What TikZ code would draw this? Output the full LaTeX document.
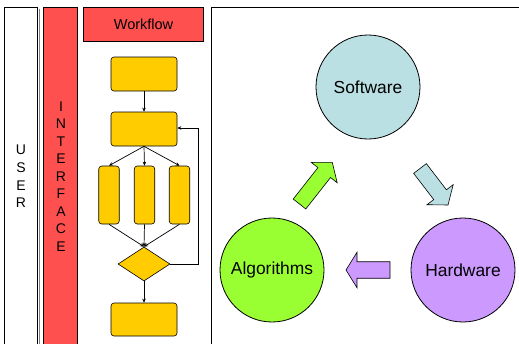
\documentclass[tikz,border=0pt]{standalone}
\usepackage{fontspec}
\setmainfont{Liberation Sans}
\usetikzlibrary{shapes.geometric,arrows.meta}
\definecolor{ired}{HTML}{FF5050}
\definecolor{fyel}{HTML}{FFCC00}
\definecolor{cblue}{HTML}{BBE0E3}
\definecolor{cgreen}{HTML}{99FF33}
\definecolor{cpurp}{HTML}{CC99FF}
\tikzset{
  panel/.style={draw=black, line width=0.8pt},
  fbox/.style={draw=black, line width=0.6pt, fill=fyel, rounded corners=3pt, inner sep=0pt},
  fdia/.style={draw=black, line width=0.6pt, fill=fyel, diamond, inner sep=0pt, minimum width=52pt, minimum height=34pt, aspect=1.5},
  flow/.style={line width=0.7pt, -{Stealth[length=4pt,width=3.5pt]}},
  circ/.style={circle, draw=black, line width=0.8pt, minimum size=104pt, inner sep=0pt, font=\fontsize{17.4}{19}\selectfont},
  barr/.style={draw=black, line width=0.6pt, line join=miter}
}
% #1 tail point, #2 angle, #3 length, #4 shaft width, #5 head width, #6 head length, #7 fill
\newcommand\blkarrow[7]{%
  \begin{scope}[shift={#1}, rotate=#2]
    \draw[barr, fill=#7] (0,-#4/2) -- (#3-#6,-#4/2) -- (#3-#6,-#5/2) -- (#3,0)
      -- (#3-#6,#5/2) -- (#3-#6,#4/2) -- (0,#4/2) -- cycle;
  \end{scope}}
\begin{document}
\begin{tikzpicture}[x=1pt,y=-1pt]
\useasboundingbox (0,0) rectangle (519,343);
\begin{scope}
\clip (0,0) rectangle (519,343);
% USER column
\draw[gray, line width=1pt] (39.2,9) -- (39.2,350);
\draw[panel, fill=white] (4,7) rectangle (37.5,350);
\node (user) at (21,176.5) [align=center, font=\fontsize{14}{17.6}\selectfont] {U\\S\\E\\R};
% INTERFACE column
\draw[panel, fill=ired] (43.5,7) rectangle (77,350);
\node (iface) at (61,176.5) [align=center, font=\fontsize{14}{17.5}\selectfont] {I\\N\\T\\E\\R\\F\\A\\C\\E};
% Workflow header
\node (wf) at (143.5,24) [draw=black, line width=0.8pt, fill=ired, minimum width=120.5pt, minimum height=34pt, inner sep=0pt, font=\fontsize{14.5}{16}\selectfont] {Workflow};
% right panel
\draw[panel] (211.8,7) rectangle (530,350);
\end{scope}
% flowchart
\node[fbox, minimum width=66pt, minimum height=34pt] (b1) at (144,74) {};
\node[fbox, minimum width=66pt, minimum height=34pt] (b2) at (144,129) {};
\node[fbox, minimum width=20.5pt, minimum height=58pt] (p1) at (109,195) {};
\node[fbox, minimum width=20.5pt, minimum height=58pt] (p2) at (144.5,195) {};
\node[fbox, minimum width=20.5pt, minimum height=58pt] (p3) at (179.5,195) {};
\node[fdia] (d) at (144,264) {};
\node[fbox, minimum width=66pt, minimum height=33pt] (b3) at (144,319.5) {};
\coordinate (rt) at (198,264);
\coordinate (rtop) at (198,128);
\draw[flow] (b1.south) -- (b2.north);
\draw[flow] (b2.south) -- (p1.north);
\draw[flow] (b2.south) -- (p2.north);
\draw[flow] (b2.south) -- (p3.north);
\draw[flow] (p1.south) -- (d.north);
\draw[flow] (p2.south) -- (d.north);
\draw[flow] (p3.south) -- (d.north);
\draw[flow] (d.east) -- (rt) -- (rtop) -- (rtop -| b2.east);
\draw[flow] (d.south) -- (b3.north);
% circles
\node[circ, fill=cblue] (sw) at (368,87) {Software};
\node[circ, fill=cgreen] (alg) at (272,270) {Algorithms};
\node[circ, fill=cpurp] (hw) at (463,270) {Hardware};
% block arrows
\blkarrow{(299.5,204)}{51.8}{53}{16}{33}{13}{cgreen}
\blkarrow{(420,168.5)}{-52.5}{46}{16}{33}{13}{cblue}
\blkarrow{(390,270)}{180}{44}{16.5}{35.5}{11}{cpurp}
\end{tikzpicture}
\end{document}
